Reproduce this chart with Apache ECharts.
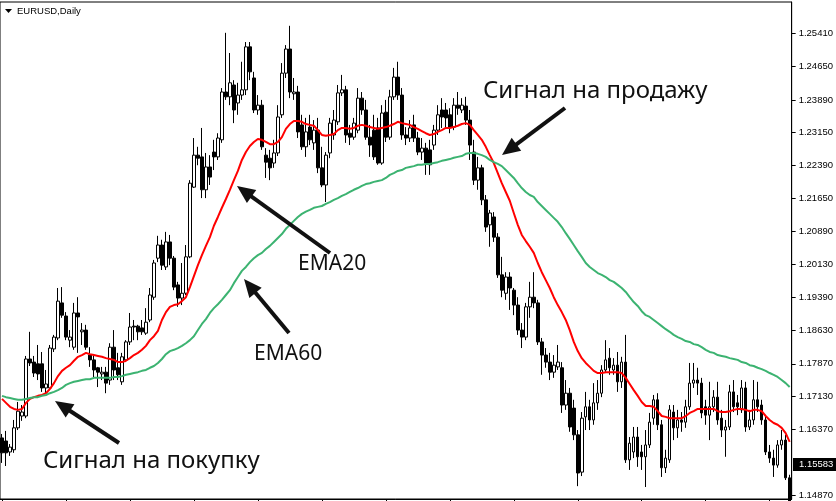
<!DOCTYPE html>
<html><head><meta charset="utf-8">
<script src="https://cdn.jsdelivr.net/npm/echarts@6/dist/echarts.min.js"></script>
<style>html,body{margin:0;padding:0;background:#fff}#c{width:836px;height:501px}</style>
</head><body><div id="c"></div>
<script>
// [open, close, low, high]
const ohlc = [
[1.1618,1.1584,1.1561,1.1627],[1.1611,1.1584,1.1554,1.1634],[1.1586,1.1597,1.1577,1.1604],[1.1591,1.1641,1.1584,1.1659],
[1.1641,1.1679,1.1636,1.1700],[1.1668,1.1677,1.1657,1.1693],[1.1668,1.1798,1.1663,1.1805],[1.1798,1.1789,1.1782,1.1860],
[1.1791,1.1766,1.1757,1.1805],[1.1787,1.1764,1.1750,1.1830],[1.1787,1.1732,1.1723,1.1814],[1.1732,1.1741,1.1720,1.1773],
[1.1732,1.1823,1.1727,1.1830],[1.1821,1.1848,1.1814,1.1853],[1.1846,1.1930,1.1841,1.1960],[1.1926,1.1898,1.1892,1.1962],
[1.1896,1.1848,1.1841,1.1905],[1.1841,1.1848,1.1825,1.1864],[1.1825,1.1903,1.1819,1.1926],[1.1903,1.1894,1.1812,1.1939],
[1.1860,1.1864,1.1830,1.1880],[1.1864,1.1825,1.1819,1.1876],[1.1807,1.1796,1.1780,1.1825],[1.1796,1.1773,1.1757,1.1807],
[1.1778,1.1768,1.1734,1.1780],[1.1764,1.1768,1.1750,1.1780],[1.1768,1.1743,1.1720,1.1780],[1.1750,1.1825,1.1739,1.1834],
[1.1825,1.1773,1.1750,1.1864],[1.1778,1.1762,1.1750,1.1812],[1.1746,1.1803,1.1739,1.1812],[1.1796,1.1837,1.1791,1.1841],
[1.1837,1.1871,1.1830,1.1903],[1.1873,1.1871,1.1841,1.1887],[1.1873,1.1860,1.1841,1.1876],[1.1869,1.1860,1.1853,1.1887],
[1.1857,1.1882,1.1853,1.1914],[1.1887,1.1944,1.1882,1.1960],[1.1939,1.2017,1.1933,1.2024],[1.2028,1.2058,1.2019,1.2079],
[1.2058,1.2012,1.2001,1.2070],[1.2008,1.2065,1.2001,1.2088],[1.2065,1.2028,1.2012,1.2081],[1.2028,1.1962,1.1955,1.2033],
[1.1967,1.1937,1.1917,1.1974],[1.1937,1.1948,1.1921,1.2017],[1.1948,1.2031,1.1944,1.2058],[1.2031,1.2199,1.2028,1.2206],
[1.2190,1.2263,1.2188,1.2302],[1.2263,1.2256,1.2240,1.2282],[1.2259,1.2184,1.2165,1.2325],[1.2184,1.2236,1.2165,1.2268],
[1.2236,1.2213,1.2195,1.2263],[1.2270,1.2259,1.2229,1.2298],[1.2259,1.2302,1.2252,1.2313],[1.2298,1.2407,1.2291,1.2416],
[1.2407,1.2396,1.2389,1.2542],[1.2396,1.2428,1.2377,1.2496],[1.2423,1.2366,1.2336,1.2434],[1.2382,1.2400,1.2355,1.2428],
[1.2400,1.2412,1.2389,1.2476],[1.2412,1.2510,1.2400,1.2521],[1.2510,1.2453,1.2434,1.2521],[1.2439,1.2366,1.2359,1.2453],
[1.2366,1.2377,1.2355,1.2400],[1.2377,1.2282,1.2275,1.2389],[1.2263,1.2247,1.2211,1.2279],[1.2256,1.2234,1.2206,1.2275],
[1.2245,1.2268,1.2234,1.2298],[1.2268,1.2350,1.2261,1.2377],[1.2355,1.2450,1.2348,1.2473],[1.2450,1.2505,1.2439,1.2514],
[1.2505,1.2407,1.2393,1.2558],[1.2403,1.2407,1.2389,1.2439],[1.2407,1.2316,1.2302,1.2421],[1.2332,1.2282,1.2275,1.2355],
[1.2282,1.2316,1.2259,1.2348],[1.2327,1.2298,1.2286,1.2355],[1.2291,1.2320,1.2275,1.2343],[1.2320,1.2234,1.2222,1.2348],
[1.2234,1.2195,1.2190,1.2282],[1.2195,1.2263,1.2156,1.2270],[1.2268,1.2336,1.2256,1.2348],[1.2309,1.2343,1.2298,1.2366],
[1.2339,1.2405,1.2332,1.2423],[1.2405,1.2412,1.2398,1.2446],[1.2412,1.2309,1.2291,1.2421],[1.2313,1.2304,1.2286,1.2332],
[1.2304,1.2336,1.2298,1.2348],[1.2320,1.2393,1.2313,1.2416],[1.2393,1.2366,1.2355,1.2407],[1.2366,1.2304,1.2298,1.2389],
[1.2304,1.2286,1.2259,1.2332],[1.2320,1.2259,1.2252,1.2355],[1.2325,1.2245,1.2241,1.2348],[1.2245,1.2359,1.2241,1.2377],
[1.2361,1.2304,1.2293,1.2389],[1.2304,1.2396,1.2298,1.2412],[1.2396,1.2441,1.2389,1.2462],[1.2441,1.2400,1.2389,1.2476],
[1.2400,1.2309,1.2298,1.2416],[1.2309,1.2302,1.2286,1.2327],[1.2302,1.2325,1.2293,1.2343],[1.2332,1.2302,1.2293,1.2355],
[1.2302,1.2270,1.2263,1.2316],[1.2270,1.2279,1.2252,1.2302],[1.2279,1.2245,1.2218,1.2291],[1.2275,1.2241,1.2218,1.2298],
[1.2286,1.2320,1.2275,1.2332],[1.2320,1.2355,1.2309,1.2377],[1.2366,1.2350,1.2325,1.2393],[1.2366,1.2348,1.2325,1.2382],
[1.2355,1.2327,1.2313,1.2370],[1.2327,1.2377,1.2320,1.2393],[1.2377,1.2370,1.2355,1.2407],[1.2366,1.2377,1.2359,1.2393],
[1.2375,1.2343,1.2332,1.2396],[1.2343,1.2286,1.2252,1.2366],[1.2270,1.2206,1.2195,1.2298],[1.2206,1.2234,1.2184,1.2259],
[1.2234,1.2161,1.2149,1.2241],[1.2161,1.2099,1.2088,1.2172],[1.2104,1.2131,1.2054,1.2138],[1.2122,1.2076,1.2065,1.2133],
[1.2076,1.1990,1.1983,1.2085],[1.1990,1.1955,1.1939,1.2031],[1.1948,1.1985,1.1933,1.1996],[1.1985,1.1960,1.1910,1.1996],
[1.1955,1.1921,1.1898,1.1960],[1.1921,1.1864,1.1853,1.1939],[1.1864,1.1848,1.1823,1.1880],[1.1848,1.1917,1.1841,1.1926],
[1.1917,1.1939,1.1892,1.1974],[1.1939,1.1926,1.1914,1.1996],[1.1926,1.1837,1.1830,1.1933],[1.1837,1.1807,1.1762,1.1846],
[1.1807,1.1791,1.1778,1.1823],[1.1791,1.1768,1.1750,1.1812],[1.1768,1.1784,1.1755,1.1807],[1.1780,1.1791,1.1773,1.1830],
[1.1778,1.1693,1.1675,1.1791],[1.1693,1.1720,1.1682,1.1750],[1.1720,1.1643,1.1632,1.1732],[1.1686,1.1625,1.1613,1.1705],
[1.1625,1.1538,1.1508,1.1636],[1.1540,1.1663,1.1531,1.1677],[1.1666,1.1689,1.1636,1.1723],[1.1689,1.1659,1.1636,1.1705],
[1.1659,1.1698,1.1648,1.1743],[1.1698,1.1720,1.1682,1.1750],[1.1720,1.1773,1.1711,1.1784],[1.1773,1.1796,1.1766,1.1841],
[1.1800,1.1778,1.1762,1.1823],[1.1773,1.1784,1.1762,1.1800],[1.1784,1.1746,1.1723,1.1814],[1.1746,1.1791,1.1732,1.1803],
[1.1791,1.1568,1.1561,1.1853],[1.1568,1.1606,1.1545,1.1620],[1.1586,1.1620,1.1572,1.1643],[1.1620,1.1575,1.1552,1.1643],
[1.1586,1.1575,1.1545,1.1602],[1.1575,1.1602,1.1506,1.1636],[1.1602,1.1654,1.1595,1.1675],[1.1663,1.1705,1.1648,1.1716],
[1.1705,1.1648,1.1636,1.1720],[1.1648,1.1550,1.1529,1.1659],[1.1550,1.1572,1.1538,1.1591],[1.1568,1.1682,1.1561,1.1693],
[1.1677,1.1641,1.1613,1.1693],[1.1641,1.1659,1.1618,1.1682],[1.1659,1.1654,1.1632,1.1677],[1.1654,1.1689,1.1641,1.1705],
[1.1689,1.1743,1.1682,1.1789],[1.1743,1.1750,1.1732,1.1789],[1.1750,1.1743,1.1716,1.1778],[1.1743,1.1675,1.1663,1.1755],
[1.1689,1.1670,1.1648,1.1705],[1.1670,1.1689,1.1613,1.1746],[1.1689,1.1711,1.1677,1.1727],[1.1711,1.1659,1.1648,1.1746],
[1.1663,1.1636,1.1620,1.1682],[1.1636,1.1643,1.1575,1.1659],[1.1643,1.1723,1.1636,1.1739],[1.1723,1.1689,1.1677,1.1750],
[1.1698,1.1689,1.1670,1.1716],[1.1682,1.1732,1.1675,1.1750],[1.1732,1.1643,1.1632,1.1746],[1.1643,1.1659,1.1636,1.1682],
[1.1659,1.1705,1.1648,1.1750],[1.1705,1.1689,1.1677,1.1746],[1.1693,1.1659,1.1648,1.1705],[1.1659,1.1586,1.1579,1.1670],
[1.1586,1.1572,1.1561,1.1602],[1.1572,1.1556,1.1529,1.1591],[1.1556,1.1602,1.1550,1.1613],[1.1602,1.1613,1.1591,1.1636],
[1.1613,1.1527,1.1522,1.1625],[1.1527,1.1474,1.1465,1.1534]
];
const ema20 = [
1.1707,1.1698,1.1689,1.1684,1.1682,1.1684,1.1698,1.1707,1.1711,1.1714,1.1716,1.1720,1.1730,1.1743,1.1759,1.1771,1.1778,1.1784,1.1794,1.1803,
1.1807,1.1812,1.1809,1.1807,1.1805,1.1803,1.1800,1.1798,1.1796,1.1791,1.1791,1.1794,1.1800,1.1807,1.1812,1.1819,1.1828,1.1841,1.1850,1.1862,
1.1887,1.1905,1.1917,1.1921,1.1923,1.1930,1.1939,1.1962,1.1987,1.2012,1.2035,1.2056,1.2076,1.2102,1.2122,1.2143,1.2163,1.2184,1.2206,1.2227,
1.2252,1.2270,1.2284,1.2293,1.2300,1.2298,1.2293,1.2288,1.2288,1.2293,1.2304,1.2323,1.2334,1.2341,1.2341,1.2339,1.2334,1.2332,1.2330,1.2320,
1.2309,1.2307,1.2309,1.2311,1.2320,1.2325,1.2325,1.2323,1.2325,1.2330,1.2332,1.2330,1.2327,1.2325,1.2323,1.2325,1.2327,1.2330,1.2334,1.2339,
1.2336,1.2334,1.2332,1.2327,1.2323,1.2318,1.2313,1.2309,1.2311,1.2316,1.2320,1.2325,1.2325,1.2327,1.2330,1.2334,1.2336,1.2332,1.2320,1.2309,
1.2298,1.2282,1.2263,1.2245,1.2222,1.2199,1.2179,1.2159,1.2131,1.2104,1.2081,1.2067,1.2054,1.2040,1.2017,1.1996,1.1978,1.1960,1.1939,1.1921,
1.1905,1.1887,1.1864,1.1837,1.1816,1.1800,1.1789,1.1780,1.1771,1.1766,1.1766,1.1768,1.1768,1.1768,1.1768,1.1766,1.1755,1.1741,1.1727,1.1714,
1.1700,1.1691,1.1691,1.1689,1.1679,1.1668,1.1666,1.1663,1.1663,1.1663,1.1663,1.1668,1.1675,1.1679,1.1684,1.1684,1.1684,1.1684,1.1684,1.1679,
1.1677,1.1677,1.1679,1.1682,1.1684,1.1684,1.1682,1.1679,1.1682,1.1682,1.1679,1.1668,1.1659,1.1652,1.1648,1.1641,1.1629,1.1609
];
const ema60 = [
1.1714,1.1711,1.1709,1.1707,1.1705,1.1705,1.1707,1.1709,1.1711,1.1711,1.1714,1.1716,1.1720,1.1723,1.1727,1.1732,1.1739,1.1743,1.1746,1.1748,
1.1750,1.1752,1.1752,1.1755,1.1755,1.1755,1.1755,1.1755,1.1757,1.1757,1.1759,1.1762,1.1764,1.1766,1.1768,1.1771,1.1773,1.1778,1.1782,1.1789,
1.1798,1.1809,1.1816,1.1819,1.1823,1.1828,1.1834,1.1841,1.1850,1.1864,1.1878,1.1889,1.1903,1.1914,1.1923,1.1933,1.1944,1.1955,1.1971,1.1985,
1.1999,1.2008,1.2019,1.2028,1.2035,1.2040,1.2049,1.2056,1.2065,1.2074,1.2083,1.2095,1.2104,1.2113,1.2122,1.2129,1.2134,1.2138,1.2143,1.2145,
1.2147,1.2152,1.2156,1.2161,1.2165,1.2170,1.2174,1.2179,1.2184,1.2188,1.2193,1.2197,1.2199,1.2202,1.2204,1.2206,1.2211,1.2218,1.2222,1.2227,
1.2229,1.2234,1.2236,1.2238,1.2241,1.2241,1.2243,1.2243,1.2245,1.2247,1.2250,1.2252,1.2254,1.2257,1.2259,1.2261,1.2266,1.2268,1.2268,1.2266,
1.2263,1.2259,1.2252,1.2247,1.2243,1.2238,1.2229,1.2220,1.2211,1.2199,1.2188,1.2179,1.2172,1.2168,1.2156,1.2147,1.2138,1.2129,1.2120,1.2111,
1.2099,1.2085,1.2072,1.2058,1.2044,1.2031,1.2017,1.2008,1.2001,1.1994,1.1990,1.1985,1.1978,1.1974,1.1967,1.1960,1.1951,1.1939,1.1928,1.1919,
1.1907,1.1898,1.1894,1.1887,1.1880,1.1873,1.1866,1.1860,1.1853,1.1848,1.1844,1.1839,1.1837,1.1832,1.1830,1.1825,1.1819,1.1814,1.1812,1.1807,
1.1805,1.1803,1.1800,1.1798,1.1796,1.1791,1.1789,1.1784,1.1782,1.1778,1.1775,1.1771,1.1766,1.1762,1.1757,1.1750,1.1743,1.1734
];
const priceTicks = [1.2541,1.2465,1.2389,1.2315,1.2239,1.2165,1.2089,1.2013,1.1939,1.1863,1.1787,1.1713,1.1637,1.1487];
const lastPrice = 1.15583;
const yMin = 1.14787, yMax = 1.26123;
const categories = ohlc.map((d, i) => String(i + 1));

const chart = echarts.init(document.getElementById('c'), null, {renderer: 'canvas'});
chart.setOption({
  animation: false,
  backgroundColor: '#ffffff',
  textStyle: {fontFamily: 'Liberation Sans'},
  grid: {left: 0, right: 44, top: 2, bottom: 2, show: true, borderColor: '#000', borderWidth: 1, backgroundColor: '#fff'},
  xAxis: {
    type: 'category', data: categories, boundaryGap: true,
    axisLine: {show: true, lineStyle: {color: '#000', width: 1}},
    axisTick: {show: true, alignWithLabel: true, interval: function (i) { return i % 16 === 0; }, length: 4, lineStyle: {color: '#000'}},
    axisLabel: {show: false}, splitLine: {show: false}
  },
  yAxis: {
    type: 'value', position: 'right', min: yMin, max: yMax, scale: true,
    axisLine: {show: true, lineStyle: {color: '#000', width: 1}},
    axisTick: {show: true, length: 4, customValues: priceTicks, lineStyle: {color: '#000'}},
    axisLabel: {show: true, customValues: priceTicks, margin: 7, color: '#000', fontSize: 9.5, fontFamily: 'Liberation Sans',
      formatter: function (v) { return v.toFixed(5); }},
    splitLine: {show: false}
  },
  series: [
    {type: 'candlestick', data: ohlc, barWidth: 3, z: 2,
      itemStyle: {color: '#ffffff', color0: '#000000', borderColor: '#000000', borderColor0: '#000000', borderWidth: 1}},
    {type: 'line', data: ema20, symbol: 'none', z: 3, lineStyle: {color: '#ff0000', width: 2}},
    {type: 'line', data: ema60, symbol: 'none', z: 3, lineStyle: {color: '#3cb371', width: 2}}
  ]
});

function arrow(x1, y1, x2, y2) {
  const dx = x2 - x1, dy = y2 - y1, L = Math.hypot(dx, dy), ux = dx / L, uy = dy / L;
  const hl = 18, hw = 8;
  const bx = x2 - ux * hl, by = y2 - uy * hl;
  return [
    {type: 'line', z: 10, shape: {x1: x1, y1: y1, x2: bx + ux * 3, y2: by + uy * 3}, style: {stroke: '#111', lineWidth: 4}},
    {type: 'polygon', z: 10, shape: {points: [[x2, y2], [bx - uy * hw, by + ux * hw], [bx + uy * hw, by - ux * hw]]}, style: {fill: '#111'}}
  ];
}
function label(txt, x, y, size) {
  return {type: 'text', z: 10, x: x, y: y, style: {text: txt, fill: '#111', font: size + 'px "Noto Sans"', align: 'left', verticalAlign: 'middle'}};
}
const py = chart.convertToPixel({yAxisIndex: 0}, lastPrice);
const els = [].concat(
  arrow(565, 108, 502, 155),
  arrow(330, 253, 237, 186),
  arrow(289, 333, 244, 279),
  arrow(119, 443, 55, 401),
  [
    label('Сигнал на продажу', 483, 91.5, 24),
    label('EMA20', 298, 264, 21),
    label('EMA60', 254, 354, 21),
    label('Сигнал на покупку', 43, 461, 24),
    {type: 'polygon', z: 10, shape: {points: [[5, 9], [12, 9], [8.5, 13]]}, style: {fill: '#000'}},
    {type: 'text', z: 10, x: 17, y: 11, style: {text: 'EURUSD,Daily', fill: '#000', font: '9.5px "Liberation Sans"', verticalAlign: 'middle'}},
    {type: 'rect', z: 10, shape: {x: 793, y: Math.round(py) - 6, width: 43, height: 13}, style: {fill: '#000'}},
    {type: 'text', z: 11, x: 799, y: py, style: {text: lastPrice.toFixed(5), fill: '#fff', font: '9.5px "Liberation Sans"', verticalAlign: 'middle'}}
  ]
);
chart.setOption({graphic: {elements: els}});
</script>
</body></html>
